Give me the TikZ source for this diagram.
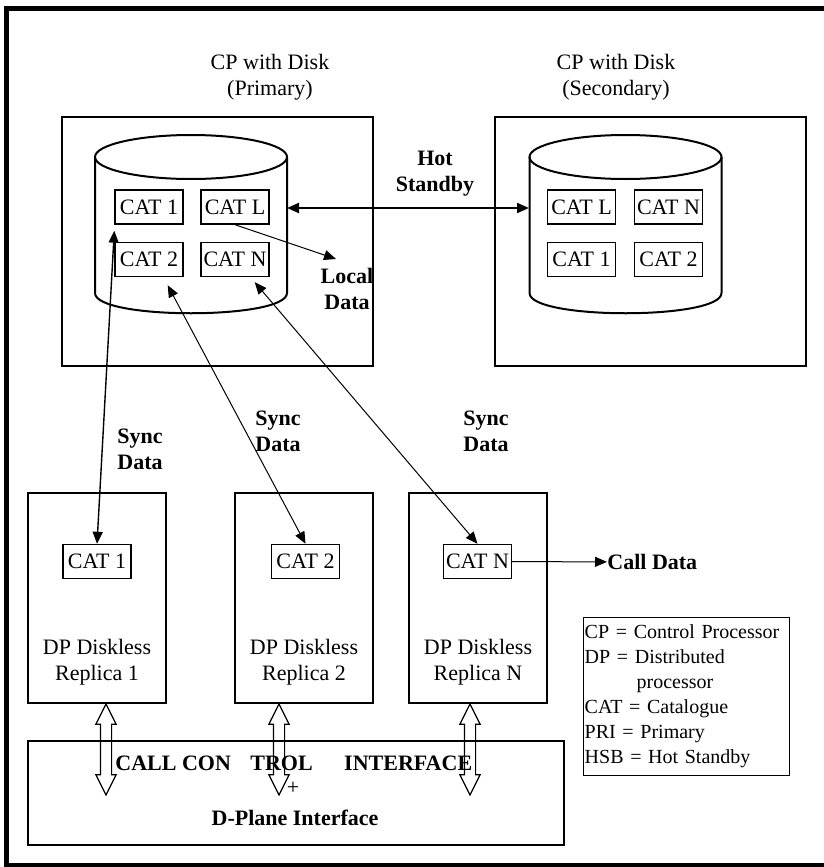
\documentclass[tikz,border=0pt]{standalone}
\usepackage{fontspec}
\setmainfont{Liberation Serif}
\usetikzlibrary{positioning,arrows.meta,shapes.arrows}

\begin{document}
\begin{tikzpicture}[x=0.5pt, y=-0.5pt, >={Triangle[length=6pt,width=5pt]},
  txt/.style={align=center, font=\fontsize{11}{13}\selectfont},
  btxt/.style={align=center, font=\bfseries\fontsize{11}{13}\selectfont},
  cat/.style={draw, line width=0.7pt, minimum width=34pt, minimum height=17pt, inner sep=0pt, font=\fontsize{11}{13}\selectfont},
  cpbox/.style={draw, line width=0.7pt, minimum width=155.5pt, minimum height=124.5pt},
  dpbox/.style={draw, line width=0.7pt, minimum width=69pt, minimum height=105pt},
  bus/.style={draw, line width=0.6pt, double arrow, shape border rotate=90, minimum height=45.5pt,
    double arrow head extend=2.25pt, double arrow tip angle=53, inner sep=2.5pt}]
  \useasboundingbox (0,0) rectangle (824,867);
  % outer frame
  \draw[line width=2.5pt] (840,8) -- (6.5,8) -- (6.5,865) -- (840,865);
  % control processors with disk
  \node[txt] (ptitle) at (270,77) {CP with Disk\\(Primary)};
  \node[txt] (stitle) at (616,77) {CP with Disk\\(Secondary)};
  \node[cpbox] (pbox) at (217.5,241.5) {};
  \node[cpbox] (sbox) at (650.5,241.5) {};
  \foreach \cx in {191,625.5} {
    \draw[line width=1pt] (\cx,157) ellipse [x radius=96, y radius=22];
    \draw[line width=1pt] (\cx-96,157) -- (\cx-96,293) .. controls (\cx-96,320) and (\cx+96,320) .. (\cx+96,293) -- (\cx+96,157);
  }
  \coordinate (pcyl) at (287,208);
  \coordinate (scyl) at (529,208);
  % catalogues on the disks
  \node[cat] (p1) at (149,207) {CAT 1};
  \node[cat] (pL) at (235,207) {CAT L};
  \node[cat] (p2) at (149,259.5) {CAT 2};
  \node[cat] (pN) at (235,259.5) {CAT N};
  \node[cat] (sL) at (581.5,207) {CAT L};
  \node[cat] (sN) at (668.5,207) {CAT N};
  \node[cat] (s1) at (581.5,259.5) {CAT 1};
  \node[cat] (s2) at (668.5,259.5) {CAT 2};
  \node[btxt] (hsb) at (435,174) {Hot\\Standby};
  \draw[<->, line width=1pt] (pcyl) -- (scyl);
  \node[btxt] (ldata) at (347,289) {Local\\Data};
  \coordinate (ltip) at (336,259);
  \draw[->, line width=0.5pt] (pL.south) -- (ltip);
  % diskless replicas
  \node[dpbox] (r1) at (97,598) {};
  \node[dpbox] (r2) at (304,598) {};
  \node[dpbox] (rN) at (478,598) {};
  \node[cat] (rc1) at (97,561.5) {CAT 1};
  \node[cat] (rc2) at (305.5,561.5) {CAT 2};
  \node[cat] (rcN) at (477.5,561.5) {CAT N};
  \node[txt] at (97,662.5) {DP Diskless\\Replica 1};
  \node[txt] at (304,662.5) {DP Diskless\\Replica 2};
  \node[txt] at (478,662.5) {DP Diskless\\Replica N};
  % sync data
  \draw[<->, line width=0.7pt] (rc1.north) -- ([shift={(0,6)}]p1.south west);
  \draw[<->, line width=0.5pt] (rc2.north) -- ([shift={(-16,8)}]p2.south east);
  \draw[<->, line width=0.5pt] (rcN.north) -- ([shift={(-15,5)}]pN.south east);
  \node[btxt] at (140,449) {Sync\\Data};
  \node[btxt] at (278,431.5) {Sync\\Data};
  \node[btxt] at (486,431.5) {Sync\\Data};
  \node[btxt, anchor=west, inner sep=0pt] (cdata) at (607,562) {Call Data};
  \draw[->, line width=0.5pt] (rcN) -- (cdata);
  % legend
  \node[draw, line width=0.7pt, anchor=north west, align=left, text width=102pt, minimum height=79pt,
    inner xsep=0.5pt, inner ysep=1pt, font=\fontsize{10}{12.5}\selectfont] (legend) at (583,617)
    {CP = Control Processor\\DP = Distributed\\\hspace*{26pt}processor\\CAT = Catalogue\\PRI = Primary\\HSB = Hot Standby};
  % call control interface
  \node[draw, line width=0.7pt, minimum width=268pt, minimum height=52pt] (cci) at (296,793) {};
  \node[btxt, anchor=west, inner sep=0pt] (ccitxt) at (115,763) {CALL CON\hspace{7pt} TROL\hspace{13pt} INTERFACE};
  \node[txt, inner sep=0pt] (plus) at (293,788) {+};
  \node[btxt] (dplane) at (295,818) {D-Plane Interface};
  \node[bus] (b1) at (106,749.5) {};
  \node[bus] (b2) at (279,749.5) {};
  \node[bus] (b3) at (470,749.5) {};
\end{tikzpicture}
\end{document}
